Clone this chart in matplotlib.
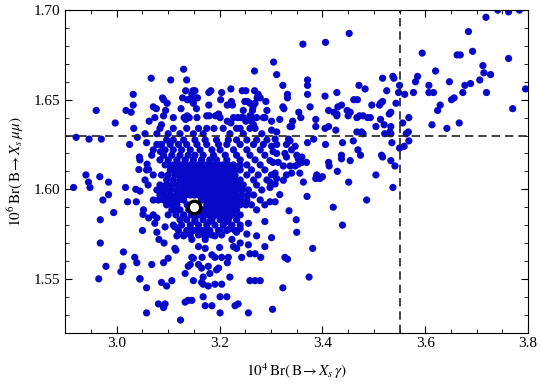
import matplotlib
matplotlib.use("Agg")
import matplotlib.pyplot as plt
from matplotlib.ticker import MultipleLocator

plt.rcParams['font.family'] = ['Liberation Serif', 'DejaVu Serif']
plt.rcParams['mathtext.fontset'] = 'stix'

# outer points, upper left
x_ul = [3.130, 3.067, 3.105, 3.136, 3.134, 3.148, 3.152, 3.146, 3.183, 3.179, 3.032,
        3.089, 3.091, 3.128, 3.137, 3.141, 3.153, 3.157, 3.098, 3.032, 3.018, 3.028,
        2.960, 3.071, 3.077, 3.095, 3.125, 3.149, 3.155, 3.179, 3.063, 3.074, 3.091,
        3.110, 3.131, 3.137, 3.141, 3.134, 3.156, 3.175, 3.180, 3.192, 2.997, 3.087]
y_ul = [1.667, 1.662, 1.661, 1.661, 1.655, 1.655, 1.655, 1.653, 1.655, 1.654, 1.653,
        1.651, 1.650, 1.651, 1.650, 1.650, 1.651, 1.651, 1.648, 1.647, 1.644, 1.643,
        1.644, 1.646, 1.645, 1.644, 1.645, 1.648, 1.645, 1.647, 1.638, 1.640, 1.641,
        1.640, 1.640, 1.641, 1.640, 1.639, 1.640, 1.641, 1.641, 1.641, 1.637, 1.636]

# outer points, left and lower left
x_left = [3.033, 2.921, 2.946, 2.970, 3.040, 3.025, 3.043, 3.044, 2.940, 2.967, 2.945,
          2.948, 2.984, 2.916, 3.017, 3.037, 3.045, 2.973, 2.984, 3.021, 3.038, 2.994,
          2.968, 2.968, 3.058, 3.078, 3.086, 3.085, 3.059, 3.062, 3.051,
          3.013, 3.035, 3.039, 2.979, 3.012, 3.008, 2.965, 3.045, 3.124]
y_left = [1.634, 1.629, 1.628, 1.628, 1.629, 1.625, 1.611, 1.618, 1.608, 1.607, 1.604,
          1.601, 1.604, 1.601, 1.601, 1.600, 1.599, 1.594, 1.597, 1.593, 1.593, 1.587,
          1.583, 1.570, 1.626, 1.625, 1.625, 1.621, 1.614, 1.611, 1.586,
          1.565, 1.562, 1.559, 1.557, 1.557, 1.554, 1.550, 1.550, 1.527]

# dense core, upper half (y from 1.634 down to 1.586)
x_core1 = [3.084, 3.110, 3.136, 3.159, 3.175, 3.189, 3.207, 3.233, 3.240, 3.259, 3.269,
           3.055, 3.078, 3.100, 3.123, 3.149, 3.168, 3.220, 3.246, 3.282,
           3.097, 3.110, 3.130, 3.152, 3.172, 3.194, 3.217, 3.233, 3.253, 3.272, 3.292,
           3.087, 3.104, 3.120, 3.136, 3.156, 3.175, 3.198, 3.214, 3.240, 3.266, 3.285,
           3.071, 3.094, 3.110, 3.126, 3.143, 3.162, 3.185, 3.201, 3.227, 3.253, 3.279,
           3.068, 3.091, 3.107, 3.123, 3.139, 3.152, 3.168, 3.188, 3.211, 3.233, 3.259, 3.288,
           3.045, 3.084, 3.100, 3.117, 3.133, 3.149, 3.165, 3.181, 3.194, 3.214, 3.240, 3.269,
           3.094, 3.110, 3.126, 3.143, 3.159, 3.175, 3.191, 3.207, 3.227, 3.253, 3.279,
           3.058, 3.104, 3.120, 3.136, 3.152, 3.168, 3.185, 3.201, 3.220, 3.240, 3.262, 3.288,
           3.071, 3.087, 3.113, 3.130, 3.146, 3.162, 3.178, 3.194, 3.211, 3.230, 3.253, 3.275,
           3.055, 3.097, 3.123, 3.139, 3.156, 3.172, 3.188, 3.204, 3.220, 3.240, 3.266, 3.292,
           3.061, 3.084, 3.107, 3.130, 3.146, 3.162, 3.178, 3.194, 3.211, 3.227, 3.246, 3.272,
           3.078, 3.094, 3.117, 3.136, 3.152, 3.168, 3.185, 3.201, 3.217, 3.233, 3.256, 3.282,
           3.084, 3.104, 3.126, 3.143, 3.159, 3.175, 3.191, 3.207, 3.224, 3.243, 3.266,
           3.071, 3.091, 3.110, 3.130, 3.165, 3.181, 3.198, 3.214, 3.230, 3.253, 3.279,
           3.097, 3.117, 3.137, 3.158, 3.175, 3.191, 3.207, 3.224, 3.240, 3.262, 3.288,
           3.052, 3.107, 3.123, 3.140, 3.155, 3.168, 3.185, 3.201, 3.217, 3.233, 3.272,
           3.071, 3.130, 3.159, 3.178, 3.194, 3.211, 3.227]
y_core1 = [1.634] * 11 + [1.631] * 9 + [1.6275] * 11 + [1.625] * 11 + [1.622] * 11 \
    + [1.619] * 12 + [1.6164] * 12 + [1.6136] * 11 + [1.6108] * 12 + [1.608] * 12 \
    + [1.6052] * 12 + [1.6024] * 12 + [1.5996] * 12 + [1.5968] * 11 + [1.594] * 11 \
    + [1.5913] * 11 + [1.5885] * 11 + [1.5857] * 7

# densest part of the core, points lying between the ones above
x_core3 = [3.102, 3.118, 3.134, 3.151, 3.167, 3.183, 3.199, 3.217, 3.240,
           3.112, 3.128, 3.144, 3.160, 3.176, 3.193, 3.210, 3.230,
           3.100, 3.121, 3.138, 3.154, 3.170, 3.186, 3.202, 3.220,
           3.110, 3.131, 3.147, 3.164, 3.180, 3.196, 3.212, 3.230,
           3.096, 3.118, 3.138, 3.154, 3.170, 3.186, 3.202, 3.219, 3.236,
           3.086, 3.105, 3.126, 3.144, 3.160, 3.176, 3.193, 3.209, 3.225, 3.244,
           3.094, 3.115, 3.134, 3.151, 3.167, 3.183, 3.199, 3.215, 3.233, 3.255,
           3.081, 3.100, 3.120, 3.173, 3.190, 3.206, 3.222, 3.241,
           3.107, 3.183, 3.199, 3.215, 3.232, 3.251,
           3.115, 3.176, 3.193, 3.209, 3.225,
           3.100, 3.115, 3.145, 3.168, 3.186, 3.202, 3.219, 3.240]
y_core3 = [1.6136] * 9 + [1.6108] * 8 + [1.608] * 8 + [1.6052] * 8 + [1.6024] * 9 \
    + [1.5996] * 10 + [1.5968] * 10 + [1.594] * 8 + [1.5913] * 6 + [1.5885] * 5 \
    + [1.5857] * 8

# dense core, lower half
x_core2 = [3.050, 3.062, 3.074, 3.078, 3.094, 3.078, 3.082, 3.092, 3.113, 3.117, 3.113,
           3.115, 3.130, 3.139, 3.146, 3.143, 3.152, 3.159, 3.165, 3.175, 3.181, 3.188,
           3.172, 3.159, 3.172, 3.191, 3.201, 3.207, 3.215, 3.220, 3.220, 3.230, 3.233,
           3.240, 3.256, 3.253, 3.272, 3.288, 3.240, 3.224, 3.227, 3.233, 3.256, 3.200,
           3.185, 3.191, 3.204, 3.217, 3.215, 3.243, 3.259, 3.269, 3.280, 3.288, 3.146,
           3.149, 3.166, 3.143, 3.139, 3.159, 3.165, 3.178, 3.168, 3.181, 3.194, 3.198,
           3.133, 3.149, 3.165, 3.168, 3.178, 3.191, 3.204, 3.220, 3.259, 3.269, 3.279,
           3.068, 3.091, 3.100, 3.045, 3.058, 3.087, 3.097, 3.107, 3.133, 3.139, 3.146,
           3.081, 3.094, 3.091, 3.168, 3.172, 3.185, 3.201, 3.214, 3.230, 3.236, 3.201,
           3.256, 3.058,
           3.123, 3.136, 3.152, 3.168, 3.185, 3.201, 3.217, 3.233,
           3.110, 3.126, 3.143, 3.159, 3.175, 3.191, 3.207, 3.224, 3.240,
           3.120, 3.136, 3.149, 3.165, 3.181, 3.198, 3.214, 3.230,
           3.130, 3.143, 3.159, 3.175, 3.185, 3.204]
y_core2 = [1.577, 1.584, 1.581, 1.584, 1.579, 1.576, 1.572, 1.570, 1.579, 1.574, 1.567,
           1.566, 1.574, 1.576, 1.572, 1.577, 1.582, 1.578, 1.575, 1.578, 1.582, 1.585,
           1.572, 1.568, 1.567, 1.574, 1.577, 1.584, 1.582, 1.585, 1.578, 1.577, 1.576,
           1.578, 1.581, 1.575, 1.574, 1.582, 1.570, 1.572, 1.568, 1.567, 1.569, 1.5675,
           1.5634, 1.562, 1.562, 1.562, 1.559, 1.562, 1.564, 1.564, 1.562, 1.568, 1.562,
           1.5615, 1.562, 1.558, 1.557, 1.558, 1.556, 1.557, 1.551, 1.553, 1.555, 1.556,
           1.553, 1.549, 1.548, 1.547, 1.546, 1.547, 1.547, 1.551, 1.549, 1.549, 1.549,
           1.558, 1.559, 1.5615, 1.550, 1.545, 1.548, 1.546, 1.549, 1.537, 1.538, 1.538,
           1.536, 1.536, 1.534, 1.540, 1.535, 1.535, 1.540, 1.540, 1.535, 1.536, 1.531,
           1.531, 1.531,
           1.583, 1.583, 1.583, 1.583, 1.583, 1.583, 1.583, 1.583,
           1.580, 1.580, 1.580, 1.580, 1.580, 1.580, 1.580, 1.580, 1.580,
           1.577, 1.577, 1.577, 1.577, 1.577, 1.577, 1.577, 1.577,
           1.5745, 1.5745, 1.5745, 1.5745, 1.5745, 1.5745]

# upper middle
x_um = [3.452, 3.362, 3.406, 3.305, 3.311, 3.268, 3.323, 3.371, 3.371, 3.371, 3.332,
        3.332, 3.222, 3.204, 3.244, 3.251, 3.268, 3.275, 3.279, 3.273, 3.290, 3.202,
        3.223, 3.225, 3.215, 3.249, 3.254, 3.259, 3.269, 3.265, 3.264, 3.246, 3.292,
        3.325, 3.323, 3.376, 3.405, 3.428, 3.471, 3.483, 3.461, 3.468, 3.437, 3.430,
        3.412, 3.422, 3.428, 3.428, 3.448, 3.454, 3.450, 3.467, 3.472, 3.479, 3.488,
        3.354, 3.358, 3.387, 3.342, 3.337, 3.317, 3.301, 3.285, 3.288, 3.272, 3.259,
        3.264, 3.246, 3.251, 3.242, 3.235, 3.227, 3.215, 3.222, 3.201, 3.198, 3.262, 3.266]
y_um = [1.687, 1.681, 1.682, 1.671, 1.664, 1.666, 1.658, 1.661, 1.658, 1.653, 1.653,
        1.651, 1.656, 1.654, 1.655, 1.655, 1.655, 1.653, 1.651, 1.651, 1.649, 1.650,
        1.649, 1.647, 1.647, 1.649, 1.649, 1.648, 1.648, 1.646, 1.644, 1.644, 1.644,
        1.645, 1.646, 1.646, 1.652, 1.654, 1.658, 1.656, 1.650, 1.650, 1.647, 1.646,
        1.644, 1.643, 1.642, 1.641, 1.644, 1.643, 1.641, 1.640, 1.641, 1.641, 1.640,
        1.643, 1.640, 1.639, 1.638, 1.635, 1.639, 1.638, 1.640, 1.640, 1.640, 1.641,
        1.640, 1.640, 1.638, 1.640, 1.640, 1.640, 1.638, 1.637, 1.640, 1.642, 1.638, 1.636]

# right of the core
x_mid = [3.301, 3.311, 3.340, 3.387, 3.405, 3.412, 3.426, 3.467, 3.476, 3.479, 3.308,
         3.334, 3.337, 3.330, 3.347, 3.340, 3.311, 3.301, 3.304, 3.311, 3.298, 3.304,
         3.314, 3.327, 3.330, 3.324, 3.337, 3.350, 3.353, 3.360, 3.360, 3.369, 3.353,
         3.347, 3.356, 3.340, 3.330, 3.324, 3.301, 3.308, 3.311, 3.298, 3.308, 3.298,
         3.317, 3.308, 3.298, 3.335, 3.349, 3.350, 3.301, 3.371, 3.383, 3.406, 3.439,
         3.460, 3.469, 3.474, 3.437, 3.437, 3.454, 3.412, 3.413, 3.429, 3.389, 3.387,
         3.395, 3.400, 3.451, 3.363, 3.370, 3.421, 3.486, 3.439, 3.381,
         3.327, 3.332, 3.374, 3.323, 3.303]
y_mid = [1.633, 1.632, 1.635, 1.635, 1.634, 1.635, 1.633, 1.632, 1.632, 1.631, 1.628,
         1.628, 1.627, 1.625, 1.624, 1.622, 1.625, 1.624, 1.621, 1.620, 1.616, 1.615,
         1.615, 1.620, 1.618, 1.613, 1.613, 1.619, 1.617, 1.618, 1.615, 1.615, 1.614,
         1.613, 1.609, 1.609, 1.608, 1.605, 1.608, 1.609, 1.606, 1.604, 1.603, 1.601,
         1.597, 1.593, 1.593, 1.588, 1.583, 1.576, 1.573, 1.626, 1.628, 1.625, 1.626,
         1.627, 1.622, 1.619, 1.619, 1.617, 1.616, 1.615, 1.613, 1.610, 1.608, 1.606,
         1.606, 1.607, 1.604, 1.604, 1.596, 1.590, 1.594, 1.580, 1.567,
         1.562, 1.561, 1.551, 1.545, 1.533]

# upper right
x_ur = [3.741, 3.762, 3.783, 3.718, 3.684, 3.594, 3.662, 3.668, 3.692, 3.762, 3.712,
        3.714, 3.727, 3.706, 3.620, 3.585, 3.581, 3.607, 3.647, 3.677, 3.688, 3.517,
        3.537, 3.539, 3.550, 3.525, 3.548, 3.560, 3.577, 3.607, 3.616, 3.673, 3.719,
        3.795, 3.517, 3.513, 3.496, 3.511, 3.543, 3.651, 3.656, 3.629, 3.624, 3.770,
        3.533, 3.530, 3.513, 3.520, 3.556, 3.568, 3.666, 3.493,
        3.504, 3.533, 3.613, 3.642, 3.521, 3.531, 3.533, 3.563, 3.567, 3.568, 3.535,
        3.550, 3.559, 3.515, 3.517, 3.533, 3.541, 3.504, 3.537]
y_ur = [1.700, 1.699, 1.700, 1.696, 1.688, 1.676, 1.675, 1.675, 1.677, 1.673, 1.669,
        1.665, 1.664, 1.661, 1.666, 1.663, 1.660, 1.658, 1.660, 1.658, 1.659, 1.662,
        1.663, 1.662, 1.658, 1.655, 1.654, 1.653, 1.654, 1.654, 1.654, 1.654, 1.654,
        1.656, 1.649, 1.648, 1.647, 1.647, 1.648, 1.650, 1.651, 1.647, 1.644, 1.645,
        1.643, 1.642, 1.639, 1.636, 1.637, 1.640, 1.637, 1.640,
        1.635, 1.635, 1.636, 1.634, 1.631, 1.632, 1.631, 1.631, 1.632, 1.627, 1.626,
        1.623, 1.624, 1.619, 1.618, 1.616, 1.613, 1.608, 1.601]

# best fit point and experimental bounds
best_x, best_y = 3.15, 1.59
bound_x, bound_y = 3.55, 1.63

xs = x_ul + x_left + x_core1 + x_core3 + x_core2 + x_um + x_mid + x_ur
ys = y_ul + y_left + y_core1 + y_core3 + y_core2 + y_um + y_mid + y_ur

fig = plt.figure(figsize=(5.4, 3.89), dpi=100)
ax = fig.add_axes([0.121, 0.145, 0.857, 0.829])

ax.scatter(xs, ys, s=27, color='#0808c8', edgecolors='none', zorder=2)
ax.axhline(bound_y, color='#222222', lw=1.2, dashes=(5, 3), zorder=3)
ax.axvline(bound_x, color='#222222', lw=1.2, dashes=(5, 3), zorder=3)
ax.plot(best_x, best_y, 'o', ms=9, mfc='white', mec='black', mew=2.4, zorder=4)

ax.set_xlim(2.9, 3.8)
ax.set_ylim(1.52, 1.70)
ax.xaxis.set_major_locator(MultipleLocator(0.2))
ax.xaxis.set_minor_locator(MultipleLocator(0.05))
ax.yaxis.set_major_locator(MultipleLocator(0.05))
ax.yaxis.set_minor_locator(MultipleLocator(0.01))
ax.xaxis.set_major_formatter(plt.FormatStrFormatter('%.1f'))
ax.yaxis.set_major_formatter(plt.FormatStrFormatter('%.2f'))
ax.tick_params(which='both', direction='in', top=True, right=True, labelsize=11)
ax.tick_params(which='major', length=5)
ax.tick_params(which='minor', length=3)

ax.set_xlabel(r'$10^4\,\mathrm{Br}(\,\mathrm{B}\!\rightarrow X_s\,\gamma)$', fontsize=11, labelpad=8)
ax.set_ylabel(r'$10^6\,\mathrm{Br}(\,\mathrm{B}\!\rightarrow X_s\,\mu\mu)$', fontsize=11, labelpad=6)

fig.savefig('out.png', dpi=100)
